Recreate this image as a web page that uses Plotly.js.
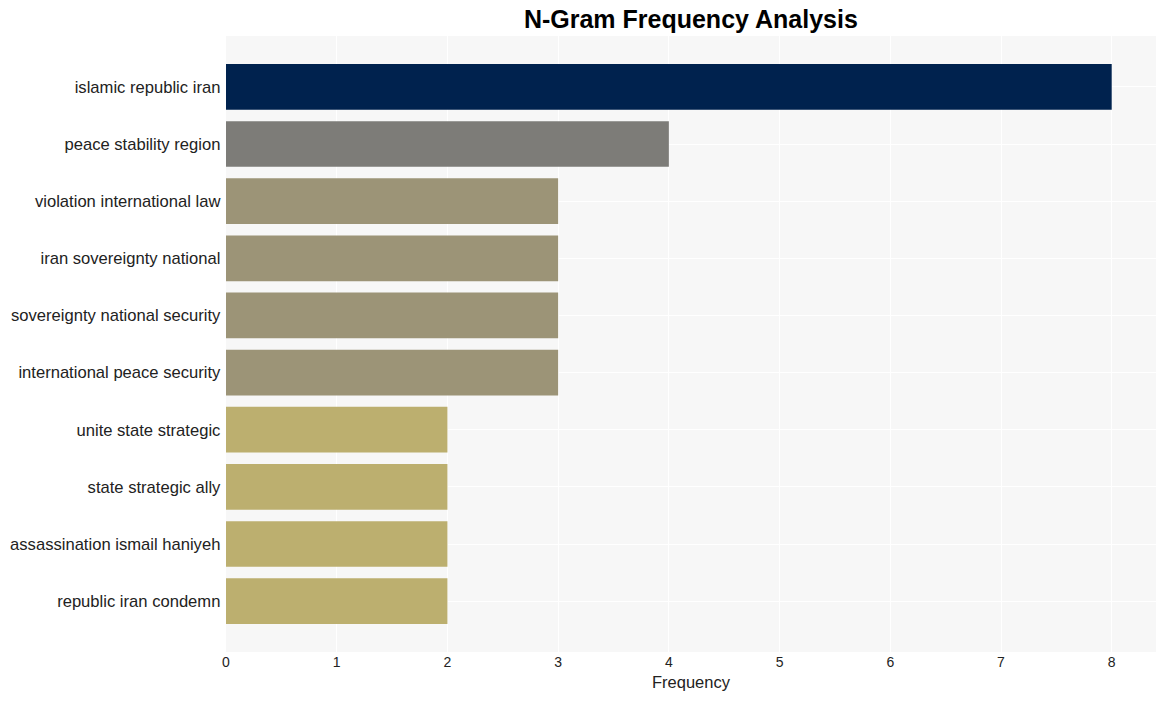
<!DOCTYPE html>
<html>
<head>
<meta charset="utf-8">
<script src="https://cdn.plot.ly/plotly-3.0.1.min.js"></script>
<style>html,body{margin:0;padding:0;background:#fff;}#chart{width:1165px;height:701px;}</style>
</head>
<body>
<div id="chart"></div>
<script>
var ngrams = ["islamic republic iran","peace stability region","violation international law","iran sovereignty national","sovereignty national security","international peace security","unite state strategic","state strategic ally","assassination ismail haniyeh","republic iran condemn"];
var frequencies = [8,4,3,3,3,3,2,2,2,2];
var barColors = ["#00224e","#7d7c78","#9c9477","#9c9477","#9c9477","#9c9477","#bcaf6f","#bcaf6f","#bcaf6f","#bcaf6f"];

var trace = {
  type: "bar",
  orientation: "h",
  x: frequencies,
  y: ngrams,
  marker: {color: barColors},
  hoverinfo: "x+y"
};

var layout = {
  width: 1165,
  height: 701,
  margin: {l: 226, r: 9, t: 36, b: 49},
  paper_bgcolor: "#ffffff",
  plot_bgcolor: "#f7f7f7",
  bargap: 0.2,
  showlegend: false,
  font: {family: "Liberation Sans, Arial, sans-serif", color: "#222"},
  title: {text: "<b>N-Gram Frequency Analysis</b>", x: 0.593, xanchor: "center", y: 0.972, yanchor: "middle", font: {size: 25, color: "#000", family: "Liberation Sans, Arial, sans-serif"}},
  xaxis: {
    title: {text: "Frequency", font: {size: 16.5, color: "#222"}, standoff: 7},
    range: [0, 8.4],
    dtick: 1,
    tick0: 0,
    gridcolor: "#ffffff",
    gridwidth: 1,
    zeroline: false,
    showline: false,
    tickfont: {size: 14, color: "#222"},
    ticks: ""
  },
  yaxis: {
    type: "category",
    range: [9.89, -0.89],
    gridcolor: "#ffffff",
    gridwidth: 1,
    tickfont: {size: 16.6, color: "#222"},
    ticks: "",
    ticksuffix: " ",
    zeroline: false
  }
};

Plotly.newPlot("chart", [trace], layout, {displayModeBar: false, staticPlot: true});
</script>
</body>
</html>
